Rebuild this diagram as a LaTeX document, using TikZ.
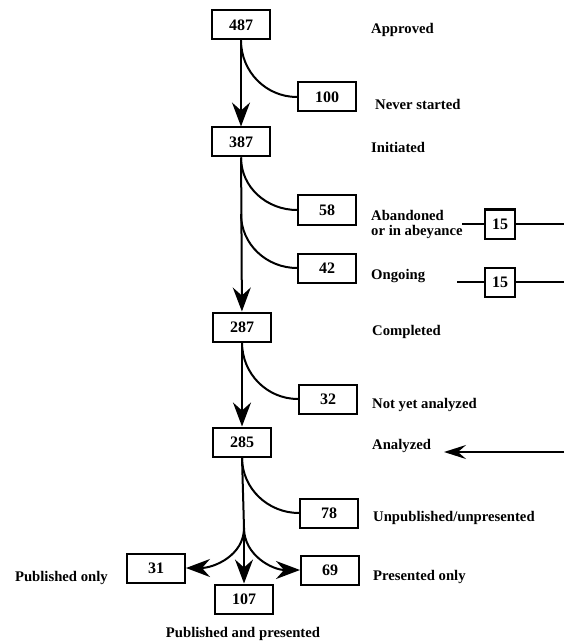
\documentclass[tikz,border=0pt]{standalone}
\usepackage{fontspec}
\setmainfont{Liberation Serif}
\usetikzlibrary{positioning, arrows.meta}
\tikzset{
  countbox/.style={
    draw=black, line width=2pt,
    fill=white,
    minimum width=58pt,
    minimum height=29pt,
    inner sep=2pt,
    font=\fontsize{16}{16}\selectfont\bfseries
  },
  smallbox/.style={
    countbox,
    minimum width=30pt
  },
  stagelabel/.style={
    anchor=west,
    inner sep=0pt,
    align=left,
    font=\fontsize{14.7}{15}\selectfont\bfseries
  },
  flow/.style={
    -{Stealth[length=24pt,width=18pt,inset=8pt]},
    line width=2pt
  },
  flowthin/.style={
    -{Stealth[length=22pt,width=14pt,inset=8pt]},
    line width=2pt
  },
  branch/.style={
    line width=2pt
  }
}

\begin{document}
\begin{tikzpicture}[x=1pt, y=-1pt]
  \useasboundingbox (0,0) rectangle (564,644);

  % main column
  \node[countbox] (n487) at (241,25)  {487};
  \node[countbox] (n387) at (241,142) {387};
  \node[countbox] (n287) at (242,327) {287};
  \node[countbox] (n285) at (242,442) {285};

  % drop-outs
  \node[countbox] (n100) at (327,97)  {100};
  \node[countbox] (n58)  at (327,210) {58};
  \node[countbox] (n42)  at (327,268) {42};
  \node[countbox] (n32)  at (328,399) {32};
  \node[countbox] (n78)  at (329,513) {78};

  % outcomes
  \node[countbox] (n31)  at (156,568) {31};
  \node[countbox] (n107) at (244,599) {107};
  \node[countbox] (n69)  at (330,570) {69};

  % side boxes
  \node[smallbox] (s15a) at (500,224) {15};
  \node[smallbox] (s15b) at (500,282) {15};

  % labels
  \node[stagelabel] (lApproved)  at (371,30)  {Approved};
  \node[stagelabel] (lNever)     at (375,104) {Never started};
  \node[stagelabel] (lInitiated) at (371,147) {Initiated};
  \node[stagelabel] (lAbandoned) at (371,224) {Abandoned\\or in abeyance};
  \node[stagelabel] (lOngoing)   at (371,276) {Ongoing};
  \node[stagelabel] (lCompleted) at (372,332) {Completed};
  \node[stagelabel] (lNotyet)    at (372,405) {Not yet analyzed};
  \node[stagelabel] (lAnalyzed)  at (372,446) {Analyzed};
  \node[stagelabel] (lUnpub)     at (373,518) {Unpublished/unpresented};
  \node[stagelabel] (lPresented) at (373,577) {Presented only};
  \node[stagelabel, anchor=east] (lPublished) at (108,578) {Published only};
  \node[stagelabel, anchor=center] (lBoth) at (243,634) {Published and presented};

  % helper points
  \coordinate (split42) at (241,214);
  \coordinate (fork)    at (244,528);
  \coordinate (inA)     at (462,224);
  \coordinate (outA)    at (564,224);
  \coordinate (inB)     at (457,282);
  \coordinate (outB)    at (564,282);
  \coordinate (fromR)   at (564,452);
  \coordinate (toAn)    at (444,452);

  % main flow
  \draw[flow] (n487) -- (n387);
  \draw[flow] (n387) -- (n287);
  \draw[flow] (n287) -- (n285);
  \draw[branch] (n285.south) -- (fork);

  % drop-out curves
  \draw[branch] (n487.south) to[out=-90, in=180] (n100.west);
  \draw[branch] (n387.south) to[out=-90, in=180] (n58.west);
  \draw[branch] (split42) to[out=-90, in=180] (n42.west);
  \draw[branch] (n287.south) to[out=-90, in=180] (n32.west);
  \draw[branch] (n285.south) to[out=-90, in=180] (n78.west);

  % outcomes
  \draw[flow] (fork) to[out=-90, in=0] (n31.east);
  \draw[flow] (fork) -- (n107.north);
  \draw[flow] (fork) to[out=-90, in=180] (n69.west);

  % side lines
  \draw[branch] (inA) -- (s15a.west);
  \draw[branch] (s15a.east) -- (outA);
  \draw[branch] (inB) -- (s15b.west);
  \draw[branch] (s15b.east) -- (outB);
  \draw[flowthin] (fromR) -- (toAn);
\end{tikzpicture}
\end{document}
